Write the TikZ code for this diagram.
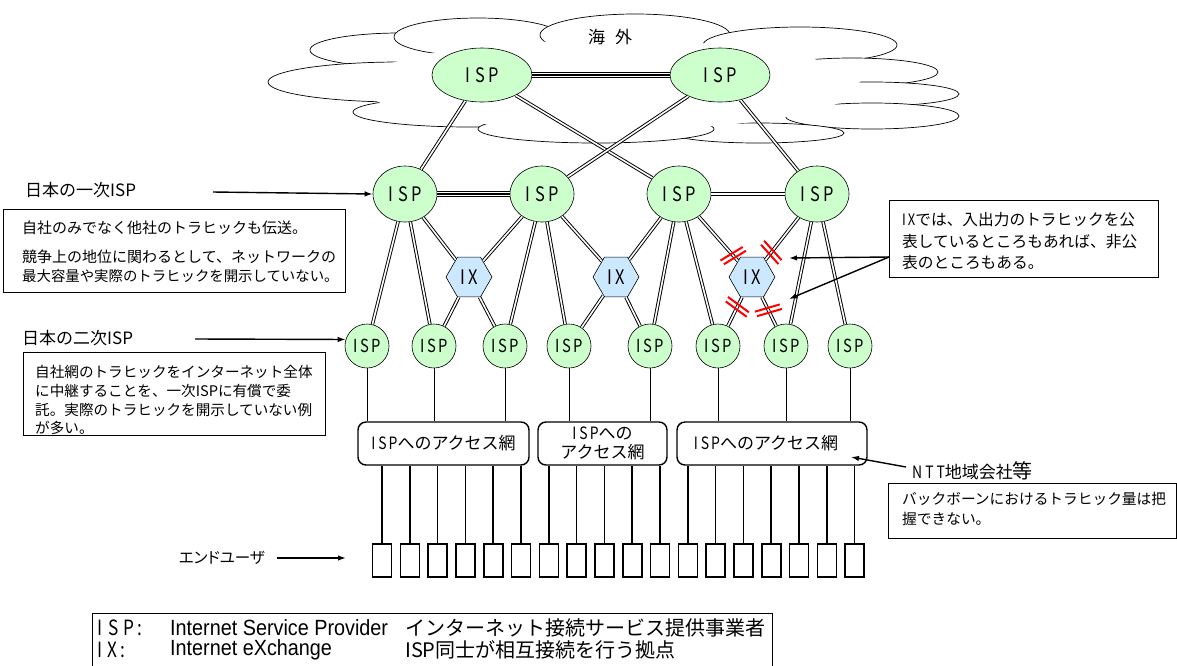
\documentclass[tikz,border=0pt]{standalone}
\usepackage{fontspec}
\setmainfont{Noto Sans CJK JP}
\newfontfamily\jp[RawFeature=+palt]{Noto Sans CJK JP}
\newfontfamily\jpn{Noto Sans CJK JP}
\newfontfamily\nar[FakeStretch=0.82]{Noto Sans CJK JP}
\newfontfamily\lat[FakeStretch=0.9]{Liberation Sans}
\usetikzlibrary{shapes.geometric,arrows.meta,calc}
\definecolor{ispg}{HTML}{CCFFCC}
\definecolor{ixb}{HTML}{CCE8FF}
\begin{document}
\begin{tikzpicture}[x=1pt,y=-1pt,
  lobe/.style={draw, fill=white, line width=0.7pt},
  isp/.style={ellipse, draw, fill=ispg, line width=0.6pt, inner sep=0pt, font=\nar\fontsize{20}{20}\selectfont},
  topisp/.style={isp, minimum width=100pt, minimum height=54pt},
  ispA/.style={isp, minimum width=64pt, minimum height=56pt},
  ispB/.style={circle, draw, fill=ispg, line width=0.6pt, inner sep=0pt, minimum size=44pt, font=\nar\fontsize{18}{18}\selectfont},
  ix/.style={regular polygon, regular polygon sides=6, draw, fill=ixb, line width=0.6pt, inner sep=0pt, minimum size=46pt, font=\nar\fontsize{20}{20}\selectfont},
  dbl/.style={line width=0.95pt, double, double distance=1.6pt},
  trip/.style={line width=0.8pt, double, double distance=3.8pt},
  acc/.style={draw, rounded corners=8pt, line width=1.4pt, minimum height=43pt, inner sep=0pt, align=center, font=\jpn\fontsize{17}{19}\selectfont},
  user/.style={draw, line width=1.6pt, minimum width=19pt, minimum height=33pt, inner sep=0pt},
  txt/.style={anchor=west, inner sep=0pt, font=\jpn\fontsize{15}{15}\selectfont},
  lbl/.style={anchor=west, inner sep=0pt, font=\jpn\fontsize{17}{17}\selectfont},
  boxed/.style={draw, line width=0.6pt, inner sep=0pt, anchor=north west},
  arr/.style={-{Latex[length=8pt,width=5.5pt]}, line width=1.4pt},
  conn/.style={line width=1.6pt},
  thinln/.style={line width=0.6pt},
  redmk/.style={red, line width=2pt},
  leg/.style={anchor=west, inner sep=0pt, font=\jpn\fontsize{20}{20}\selectfont},
  legl/.style={anchor=west, inner sep=0pt, font=\lat\fontsize{22}{22}\selectfont}
]
\useasboundingbox (0,0) rectangle (1177,665);

% ---- cloud ----
\draw[lobe] (400,50) ellipse [x radius=90pt, y radius=17pt];
\draw[lobe] (478,37) ellipse [x radius=84pt, y radius=19pt];
\draw[lobe] (635,35) ellipse [x radius=95pt, y radius=21pt];
\draw[lobe] (800,45) ellipse [x radius=97pt, y radius=18pt];
\draw[lobe] (852,72) ellipse [x radius=86pt, y radius=14pt];
\draw[lobe] (872,94) ellipse [x radius=87pt, y radius=12pt];
\draw[lobe] (872,116) ellipse [x radius=87pt, y radius=13pt];
\draw[lobe] (400,82) ellipse [x radius=132pt, y radius=20pt];
\draw[lobe] (470,112) ellipse [x radius=117pt, y radius=15pt];
\draw[lobe] (758,133) ellipse [x radius=86pt, y radius=10pt];
\draw[lobe] (596,129) ellipse [x radius=118pt, y radius=14pt];
\fill[white] (610,85) ellipse [x radius=250pt, y radius=45pt];
\node[font=\jpn\fontsize{17}{17}\selectfont] (kaigai) at (610,37) {海\hspace{10pt}外};

% ---- nodes ----
\node[topisp] (ta) at (482,75) {I\hspace{5pt}S\hspace{3pt}P};
\node[topisp] (tb) at (720,75) {I\hspace{5pt}S\hspace{3pt}P};

\node[ispA] (p1) at (405,194) {I\hspace{5pt}S\hspace{3pt}P};
\node[ispA] (p2) at (542,194) {I\hspace{5pt}S\hspace{3pt}P};
\node[ispA] (p3) at (679,194) {I\hspace{5pt}S\hspace{3pt}P};
\node[ispA] (p4) at (817,194) {I\hspace{5pt}S\hspace{3pt}P};

\node[ix] (x1) at (469,277) {I\hspace{3pt}X};
\node[ix] (x2) at (616,277) {I\hspace{3pt}X};
\node[ix] (x3) at (752,277) {I\hspace{3pt}X};

\node[ispB] (s1) at (367,346) {I\hspace{3pt}S\hspace{2pt}P};
\node[ispB] (s2) at (434,346) {I\hspace{3pt}S\hspace{2pt}P};
\node[ispB] (s3) at (505,346) {I\hspace{3pt}S\hspace{2pt}P};
\node[ispB] (s4) at (569,346) {I\hspace{3pt}S\hspace{2pt}P};
\node[ispB] (s5) at (650,346) {I\hspace{3pt}S\hspace{2pt}P};
\node[ispB] (s6) at (718,346) {I\hspace{3pt}S\hspace{2pt}P};
\node[ispB] (s7) at (786,346) {I\hspace{3pt}S\hspace{2pt}P};
\node[ispB] (s8) at (850,346) {I\hspace{3pt}S\hspace{2pt}P};

\node[acc, minimum width=171pt] (a1) at (443.5,443.5) {{\nar I\hspace{3pt}S\hspace{2pt}P}へのアクセス網};
\node[acc, minimum width=129pt] (a2) at (602.5,443.5) {{\nar I\hspace{3pt}S\hspace{2pt}P}への\\アクセス網};
\node[acc, minimum width=190pt] (a3) at (772,443.5) {{\nar I\hspace{3pt}S\hspace{2pt}P}へのアクセス網\hspace{12pt}};

\foreach \i in {0,...,17} {
  \node[user] (u\i) at ({382+27.8*\i},560.5) {};
}

% ---- links ----
\draw[trip] (ta) -- (tb);
\draw[line width=1.3pt] (ta) -- (tb);
\draw[trip] (p1) -- (p2);
\draw[line width=1.3pt] (p1) -- (p2);
\draw[line width=1.1pt, double, double distance=2pt] (p3) -- (p4);

\foreach \a/\b in {ta/p1, ta/p3, tb/p2, tb/p4,
  p1/s1, p1/s2, p1/x1, p2/x1, p2/s3, p2/s4, p2/x2,
  p3/x2, p3/s5, p3/s6, p3/x3, p4/x3, p4/s7, p4/s8,
  x1/s2, x1/s3, x2/s4, x2/s5, x3/s6, x3/s7}
  \draw[dbl] (\a) -- (\b);

\foreach \s/\a in {s1/a1, s2/a1, s3/a1, s4/a2, s5/a2, s6/a3, s7/a3, s8/a3}
  \draw[thinln] (\s) -- (\s |- \a.north);

\foreach \i in {0,...,5} \draw[conn] (u\i.north) -- (u\i.north |- a1.south);
\foreach \i in {6,...,10} \draw[conn] (u\i.north) -- (u\i.north |- a2.south);
\foreach \i in {11,...,17} \draw[conn] (u\i.north) -- (u\i.north |- a3.south);

% ---- red marks ----
\foreach \a/\b/\f in {p3/x3/0.72, p4/x3/0.68, x3/s6/0.40, x3/s7/0.45} {
  \path ($(\a)!\f!(\b)$) coordinate (mA);
  \path ($(mA)!5pt!(\b)$) coordinate (mB);
  \draw[redmk] ($(mA)!13pt!80:(\b)$) -- ($(mA)!13pt!-100:(\b)$);
  \draw[redmk] ($(mB)!13pt!80:(\b)$) -- ($(mB)!13pt!-100:(\b)$);
}

% ---- left labels ----
\node[lbl] (l1) at (25,190) {日本の一次ISP};
\coordinate (l1s) at (213,192);
\draw[arr] (l1s) -- (p1.west);
\node[boxed, minimum width=342pt, minimum height=83pt] (b1) at (3,209) {};
\node[txt] (b1a) at (22,228) {自社のみでなく他社のトラヒックも伝送。};
\node[txt] (b1b) at (22,257) {競争上の地位に関わるとして、ネットワークの};
\node[txt, font=\jpn\fontsize{14.4}{15}\selectfont] (b1c) at (22,276) {最大容量や実際のトラヒックを開示していない。};

\node[lbl] (l2) at (22,338) {日本の二次ISP};
\coordinate (l2s) at (195,339);
\draw[arr] (l2s) -- (s1.163);
\node[boxed, minimum width=302pt, minimum height=83pt] (b2) at (23,352) {};
\node[txt, font=\jpn\fontsize{14.6}{15}\selectfont] (b2a) at (35,372) {自社網のトラヒックをインターネット全体};
\node[txt, font=\jpn\fontsize{14.6}{15}\selectfont] (b2b) at (35,391) {に中継することを、一次ISPに有償で委};
\node[txt, font=\jpn\fontsize{14.6}{15}\selectfont] (b2c) at (35,410) {託。実際のトラヒックを開示していない例};
\node[txt, font=\jpn\fontsize{14.6}{15}\selectfont] (b2d) at (35,428) {が多い。};

\node[anchor=east, inner sep=0pt, font=\jp\fontsize{15.5}{16}\selectfont] (eu) at (265,558) {エンドユーザ};
\coordinate (eus) at (277,558);
\coordinate (eue) at (346,558);
\draw[arr] (eus) -- (eue);

% ---- IX callout ----
\node[boxed, minimum width=269pt, minimum height=77pt] (b3) at (889,200) {};
\node[lbl, font=\jpn\fontsize{15.7}{16}\selectfont] (b3a) at (902,220) {{\nar I\hspace{2pt}X}では、入出力のトラヒックを公};
\node[lbl, font=\jpn\fontsize{15.7}{16}\selectfont] (b3b) at (902,242) {表しているところもあれば、非公};
\node[lbl, font=\jpn\fontsize{15.7}{16}\selectfont] (b3c) at (902,263) {表のところもある。};
\coordinate (cx) at (889,257);
\coordinate (cx1) at (789,258);
\coordinate (cx2) at (789,299);
\draw[arr] (cx) -- (cx1);
\draw[arr] (cx) -- (cx2);

% ---- NTT ----
\node[lbl] (ntt) at (912,471) {{\nar N\hspace{3pt}T\hspace{3pt}T}地域会社{\fontsize{20}{20}\selectfont 等}};
\coordinate (ntts) at (906,467);
\coordinate (ntte) at (851,457);
\draw[arr] (ntts) -- (ntte);
\node[boxed, minimum width=288pt, minimum height=55pt] (b4) at (888,483) {};
\node[txt, font=\jpn\fontsize{14.7}{15}\selectfont] (b4a) at (902,499) {バックボーンにおけるトラヒック量は把};
\node[txt, font=\jpn\fontsize{14.7}{15}\selectfont] (b4b) at (902,519) {握できない。};

% ---- legend ----
\node[boxed, minimum width=680pt, minimum height=90pt] (lg) at (92,613) {};
\node[leg] (lg1) at (97,628) {{\nar\fontsize{21}{21}\selectfont I\hspace{6pt}S\hspace{5pt}P\hspace{3pt}:}};
\node[legl] (lg2) at (170,628) {Internet Service Provider};
\node[leg] (lg3) at (405,628) {インターネット接続サービス提供事業者};
\node[leg] (lg4) at (97,650) {{\nar\fontsize{21}{21}\selectfont I\hspace{5pt}X\hspace{3pt}:}};
\node[legl] (lg5) at (170,650) {Internet eXchange};
\node[leg] (lg6) at (405,650) {ISP同士が相互接続を行う拠点};
\end{tikzpicture}
\end{document}
